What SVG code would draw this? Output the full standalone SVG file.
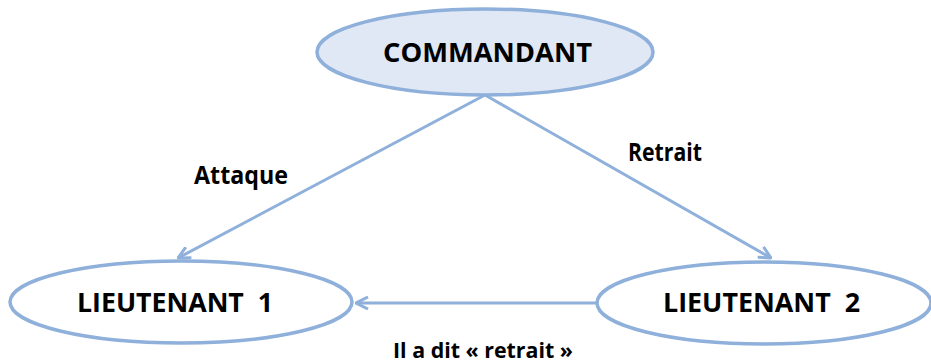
<svg xmlns="http://www.w3.org/2000/svg" width="931" height="362" viewBox="0 0 931 362">
<style>
.node{stroke:#8eb0da;stroke-width:3.5;}
.lbl{font-family:"Open Sans","Liberation Sans",sans-serif;font-weight:bold;fill:#000;}
.edge{stroke:#8eb0da;stroke-width:3;fill:none;}
</style>
<defs>
<marker id="arr" viewBox="0 0 14 14" refX="13" refY="7" markerWidth="14" markerHeight="14" markerUnits="userSpaceOnUse" orient="auto">
<path d="M1,1 L13,7 L1,13" fill="none" stroke="#8eb0da" stroke-width="3"/>
</marker>
</defs>
<rect width="931" height="362" fill="#fff"/>
<g id="connectors">
<line class="edge" x1="485" y1="95" x2="178" y2="258" marker-end="url(#arr)"/>
<line class="edge" x1="485" y1="95" x2="771" y2="258" marker-end="url(#arr)"/>
<line class="edge" x1="597" y1="303" x2="356" y2="303" marker-end="url(#arr)"/>
<text class="lbl" x="194" y="184" font-size="25" textLength="94" lengthAdjust="spacingAndGlyphs">Attaque</text>
<text class="lbl" x="628" y="161" font-size="25" textLength="74" lengthAdjust="spacingAndGlyphs">Retrait</text>
<text class="lbl" x="393" y="358" font-size="22" textLength="180" lengthAdjust="spacingAndGlyphs">Il a dit « retrait »</text>
</g>
<g id="commandant">
<ellipse class="node" cx="485" cy="52" rx="168" ry="43" fill="#dfe8f4"/>
<text class="lbl" x="383" y="62" font-size="27" textLength="209" lengthAdjust="spacingAndGlyphs">COMMANDANT</text>
</g>
<g id="lieutenant1">
<ellipse class="node" cx="181" cy="302" rx="171" ry="41" fill="#fff"/>
<text class="lbl" x="77" y="312" font-size="27" xml:space="preserve" style="white-space:pre" textLength="196" lengthAdjust="spacingAndGlyphs">LIEUTENANT  1</text>
</g>
<g id="lieutenant2">
<ellipse class="node" cx="764" cy="303" rx="167" ry="41" fill="#fff"/>
<text class="lbl" x="663" y="312" font-size="27" xml:space="preserve" style="white-space:pre" textLength="197" lengthAdjust="spacingAndGlyphs">LIEUTENANT  2</text>
</g>
</svg>
